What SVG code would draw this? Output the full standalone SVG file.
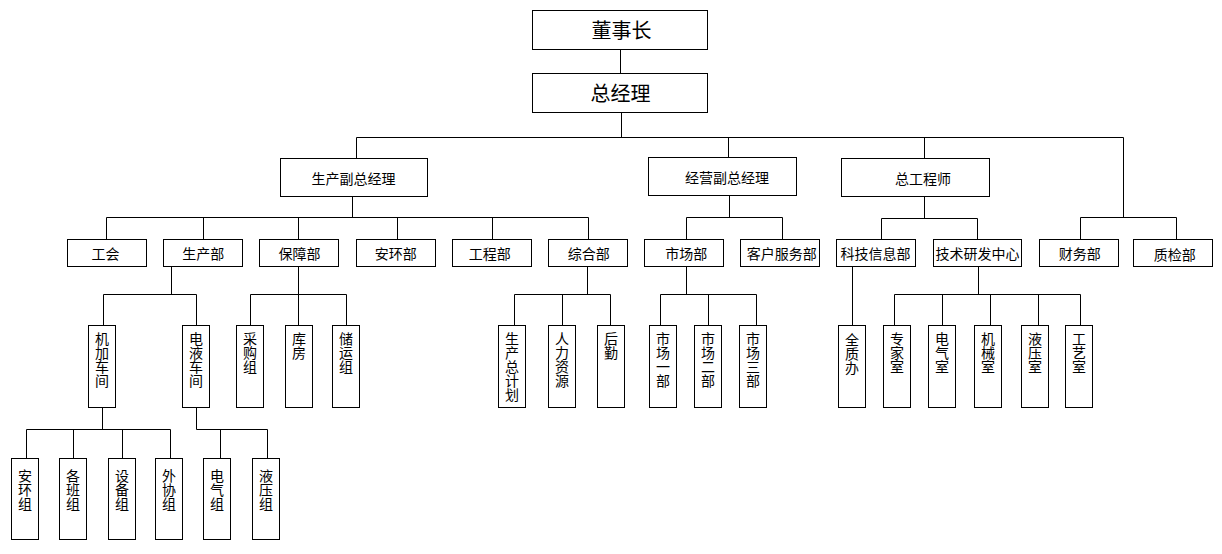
<svg xmlns="http://www.w3.org/2000/svg" width="1222" height="554" viewBox="0 0 1222 554">
<style>
.b{fill:#fff;stroke:#000;stroke-width:1}
.c{fill:none;stroke:#000;stroke-width:1}
text{font-family:"Noto Sans CJK SC","Noto Sans",sans-serif;fill:#000;text-anchor:middle}
.t1{font-size:20px}
.t2{font-size:14px}
.v{font-size:14px;writing-mode:vertical-rl;text-anchor:start}
</style>
<rect width="1222" height="554" fill="#fff"/>
<g id="connectors" class="c">
<path d="M620.5 49.5V73.5"/>
<path d="M621.5 112.5V137.5"/>
<path d="M356.5 137.5H1123.5M356.5 137.5V158.5M728.5 137.5V157.5M924.5 137.5V158.5M1123.5 137.5V217.5"/>
<path d="M1080.5 239.5V217.5H1176.5V239.5"/>
<path d="M352.5 196.5V217.5M106.5 239.5V217.5H588.5V239.5M203.5 217.5V239.5M298.5 217.5V239.5M397.5 217.5V239.5M492.5 217.5V239.5"/>
<path d="M729.5 195.5V217.5M686.5 239.5V217.5H782.5V239.5"/>
<path d="M924.5 196.5V218.5M881.5 239.5V218.5H977.5V239.5"/>
<path d="M171.5 266.5V294.5M103.5 325.5V294.5H196.5V325.5"/>
<path d="M298.5 266.5V325.5M250.5 325.5V294.5H346.5V325.5"/>
<path d="M587.5 266.5V294.5M514.5 325.5V294.5H610.5V325.5M562.5 294.5V325.5"/>
<path d="M686.5 266.5V294.5M660.5 325.5V294.5H756.5V325.5M708.5 294.5V325.5"/>
<path d="M852.5 266.5V325.5"/>
<path d="M978.5 266.5V294.5M894.5 325.5V294.5H1080.5V325.5M942.5 294.5V325.5M990.5 294.5V325.5M1038.5 294.5V325.5"/>
<path d="M102.5 407.5V429.5M26.5 458.5V429.5H170.5V458.5M73.5 429.5V458.5M122.5 429.5V458.5"/>
<path d="M196.5 407.5V429.5H267.5V458.5M220.5 429.5V458.5"/>
</g>
<g id="n-dsz"><rect class="b" x="532.5" y="10.5" width="175" height="39"/><text class="t1" x="621.5" y="38">董事长</text></g>
<g id="n-zjl"><rect class="b" x="532.5" y="73.5" width="175" height="39"/><text class="t1" x="620.5" y="100.5">总经理</text></g>
<g id="n-scfz"><rect class="b" x="280.5" y="158.5" width="147" height="38"/><text class="t2" x="353.5" y="183.5">生产副总经理</text></g>
<g id="n-jyfz"><rect class="b" x="648.5" y="157.5" width="148" height="38"/><text class="t2" x="727" y="183">经营副总经理</text></g>
<g id="n-zgcs"><rect class="b" x="841.5" y="158.5" width="148" height="38"/><text class="t2" x="923" y="183.5">总工程师</text></g>
<g id="n-gh"><rect class="b" x="67.5" y="239.5" width="79" height="27"/><text class="t2" x="105.5" y="258.5">工会</text></g>
<g id="n-scb"><rect class="b" x="163.5" y="239.5" width="79" height="27"/><text class="t2" x="203.2" y="258.5">生产部</text></g>
<g id="n-bzb"><rect class="b" x="259.5" y="239.5" width="79" height="27"/><text class="t2" x="299.6" y="258.5">保障部</text></g>
<g id="n-ahb"><rect class="b" x="356.5" y="239.5" width="79" height="27"/><text class="t2" x="395.8" y="258.5">安环部</text></g>
<g id="n-gcb"><rect class="b" x="452.5" y="239.5" width="79" height="27"/><text class="t2" x="489.7" y="258.5">工程部</text></g>
<g id="n-zhb"><rect class="b" x="548.5" y="239.5" width="79" height="27"/><text class="t2" x="588.7" y="258.5">综合部</text></g>
<g id="n-scbu"><rect class="b" x="644.5" y="239.5" width="79" height="27"/><text class="t2" x="686.3" y="258.5">市场部</text></g>
<g id="n-khfw"><rect class="b" x="740.5" y="239.5" width="79" height="27"/><text class="t2" x="781.7" y="258.5">客户服务部</text></g>
<g id="n-kjxx"><rect class="b" x="836.5" y="239.5" width="79" height="27"/><text class="t2" x="875.6" y="258.5">科技信息部</text></g>
<g id="n-jsyf"><rect class="b" x="933.5" y="239.5" width="88" height="27"/><text class="t2" x="977.5" y="258.5">技术研发中心</text></g>
<g id="n-cwb"><rect class="b" x="1039.5" y="239.5" width="79" height="27"/><text class="t2" x="1079.8" y="258.5">财务部</text></g>
<g id="n-zjb"><rect class="b" x="1133.5" y="239.5" width="79" height="27"/><text class="t2" x="1174.8" y="259.5">质检部</text></g>
<g id="n-jjcj"><rect class="b" x="88.5" y="325.5" width="27" height="82"/><text class="v" x="102" y="332">机加车间</text></g>
<g id="n-dycj"><rect class="b" x="182.5" y="325.5" width="27" height="82"/><text class="v" x="196" y="332">电液车间</text></g>
<g id="n-cgz"><rect class="b" x="236.5" y="325.5" width="27" height="82"/><text class="v" x="250" y="332">采购组</text></g>
<g id="n-kf"><rect class="b" x="285.5" y="325.5" width="27" height="82"/><text class="v" x="299" y="332">库房</text></g>
<g id="n-cyz"><rect class="b" x="332.5" y="325.5" width="27" height="82"/><text class="v" x="346" y="332">储运组</text></g>
<g id="n-sczjh"><rect class="b" x="498.5" y="325.5" width="27" height="82"/><text class="v" x="512" y="332">生产总计划</text></g>
<g id="n-rlzy"><rect class="b" x="548.5" y="325.5" width="27" height="82"/><text class="v" x="562" y="332">人力资源</text></g>
<g id="n-hq"><rect class="b" x="597.5" y="325.5" width="27" height="82"/><text class="v" x="611" y="332">后勤</text></g>
<g id="n-sc1"><rect class="b" x="649.5" y="325.5" width="27" height="82"/><text class="v" x="663" y="332">市场一部</text></g>
<g id="n-sc2"><rect class="b" x="694.5" y="325.5" width="27" height="82"/><text class="v" x="708" y="332">市场二部</text></g>
<g id="n-sc3"><rect class="b" x="739.5" y="325.5" width="27" height="82"/><text class="v" x="753" y="332">市场三部</text></g>
<g id="n-qzb"><rect class="b" x="838.5" y="325.5" width="27" height="82"/><text class="v" x="852" y="333">全质办</text></g>
<g id="n-zjs"><rect class="b" x="883.5" y="325.5" width="27" height="82"/><text class="v" x="897" y="332">专家室</text></g>
<g id="n-dqs"><rect class="b" x="928.5" y="325.5" width="27" height="82"/><text class="v" x="942" y="332">电气室</text></g>
<g id="n-jxs"><rect class="b" x="974.5" y="325.5" width="27" height="82"/><text class="v" x="988" y="332">机械室</text></g>
<g id="n-yys"><rect class="b" x="1021.5" y="325.5" width="27" height="82"/><text class="v" x="1035" y="332">液压室</text></g>
<g id="n-gys"><rect class="b" x="1065.5" y="325.5" width="27" height="82"/><text class="v" x="1079" y="332">工艺室</text></g>
<g id="n-ahz"><rect class="b" x="11.5" y="458.5" width="27" height="81"/><text class="v" x="25" y="469">安环组</text></g>
<g id="n-gbz"><rect class="b" x="59.5" y="458.5" width="27" height="81"/><text class="v" x="73" y="469">各班组</text></g>
<g id="n-sbz"><rect class="b" x="108.5" y="458.5" width="27" height="81"/><text class="v" x="122" y="469">设备组</text></g>
<g id="n-wxz"><rect class="b" x="155.5" y="458.5" width="27" height="81"/><text class="v" x="169" y="469">外协组</text></g>
<g id="n-dqz"><rect class="b" x="203.5" y="458.5" width="27" height="81"/><text class="v" x="217" y="469">电气组</text></g>
<g id="n-yyz"><rect class="b" x="252.5" y="458.5" width="27" height="81"/><text class="v" x="266" y="469">液压组</text></g>
</svg>
